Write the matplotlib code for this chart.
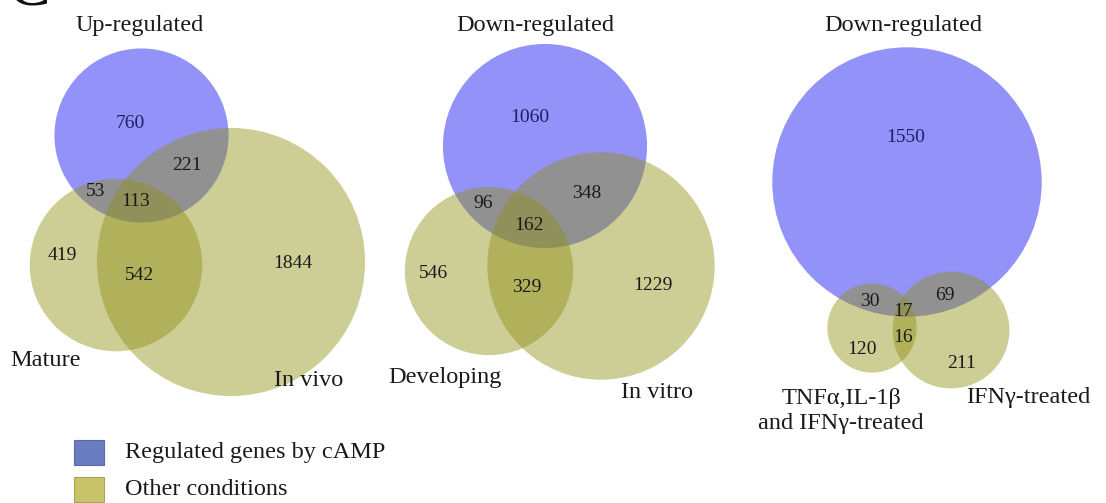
import numpy as np
import matplotlib
matplotlib.use("Agg")
import matplotlib.pyplot as plt
from matplotlib.patches import Circle, Rectangle

plt.rcParams['font.family'] = ['Liberation Serif', 'DejaVu Serif']

# ---------------------- data ----------------------
# each panel: cAMP set (A), first condition (B), second condition (C)
TITLES = ["Up-regulated", "Down-regulated", "Down-regulated"]
COND_B = ["Mature", "Developing", "TNF\u03b1,IL-1\u03b2\nand IFN\u03b3-treated"]
COND_C = ["In vivo", "In vitro", "IFN\u03b3-treated"]

A_ONLY = [760, 1060, 1550]
B_ONLY = [419, 546, 120]
C_ONLY = [1844, 1229, 211]
AB = [53, 96, 30]
AC = [221, 348, 69]
BC = [542, 329, 16]
ABC = [113, 162, 17]

LEGEND_LABELS = ["Regulated genes by cAMP", "Other conditions"]

# ---------------------- layout (pixels, y down) ----------------------
W, H = 1106, 503
CENTERS = [
    [(141.5, 135.5), (116, 265), (231, 262)],
    [(545, 146), (489, 271), (601, 266)],
    [(907, 182), (872, 328), (951, 330)],
]
R_SCALE = [2.57, 2.50, 3.30]   # px per sqrt(gene)

# text anchors for the regions: A, B, C, AB, AC, BC, ABC
REGION_POS = [
    [(130, 123), (62, 255), (293, 263), (96, 192), (187, 165), (139, 275), (136, 202)],
    [(530, 117), (433, 273), (653, 285), (483, 204), (587, 193), (527, 288), (529, 225)],
    [(906, 138), (862, 350), (962, 363), (870, 302), (945, 295), (903, 338), (903, 312)],
]
TITLE_POS = [(140, 25), (535, 25), (903, 25)]
B_POS = [(46, 360), (445, 378), (841, 411)]
C_POS = [(309, 380), (657, 393), (1028, 398)]

BLUE = "#9292f9"
OLIVE = "#909016"
NAVY = "#1e1e66"
TXT = "#1a1a1a"

fig = plt.figure(figsize=(W / 100, H / 100), dpi=100)
ax = fig.add_axes([0, 0, 1, 1])
ax.set_xlim(0, W)
ax.set_ylim(H, 0)
ax.set_aspect("equal")
ax.axis("off")

for i in range(3):
    tot_a = A_ONLY[i] + AB[i] + AC[i] + ABC[i]
    tot_b = B_ONLY[i] + AB[i] + BC[i] + ABC[i]
    tot_c = C_ONLY[i] + AC[i] + BC[i] + ABC[i]
    ca, cb, cc = CENTERS[i]
    k = R_SCALE[i]

    # blue first, the yellow ones are blended on top
    ax.add_patch(Circle(ca, k * np.sqrt(tot_a), facecolor=BLUE, edgecolor="none", zorder=1))
    ax.add_patch(Circle(cb, k * np.sqrt(tot_b), facecolor=OLIVE, alpha=0.45, edgecolor="none", zorder=2))
    ax.add_patch(Circle(cc, k * np.sqrt(tot_c), facecolor=OLIVE, alpha=0.45, edgecolor="none", zorder=2))

    vals = [A_ONLY[i], B_ONLY[i], C_ONLY[i], AB[i], AC[i], BC[i], ABC[i]]
    for j, (v, (x, y)) in enumerate(zip(vals, REGION_POS[i])):
        ax.text(x, y, str(v), ha="center", va="center", fontsize=14,
                color=NAVY if j == 0 else TXT, zorder=5)

    ax.text(*TITLE_POS[i], TITLES[i], ha="center", va="center", fontsize=17.5, color=TXT)
    ax.text(*B_POS[i], COND_B[i], ha="center", va="center", fontsize=17.5, color=TXT,
            linespacing=1.25)
    ax.text(*C_POS[i], COND_C[i], ha="center", va="center", fontsize=17.5, color=TXT)

# panel letter, cut off at the top edge
ax.text(29, 4, "C", ha="center", va="baseline", fontsize=46, color="#111111")

# legend
leg_colors = [("#6a7cc2", "#5a6aa6"), ("#c9c46a", "#a9a553")]
for n, (lab, (fc, ec)) in enumerate(zip(LEGEND_LABELS, leg_colors)):
    y0 = 440 + n * 37
    ax.add_patch(Rectangle((74, y0), 30, 25, facecolor=fc, edgecolor=ec, linewidth=0.8))
    ax.text(125, y0 + 12.5, lab, ha="left", va="center", fontsize=17.5, color=TXT)

fig.savefig("out.png", dpi=100)
